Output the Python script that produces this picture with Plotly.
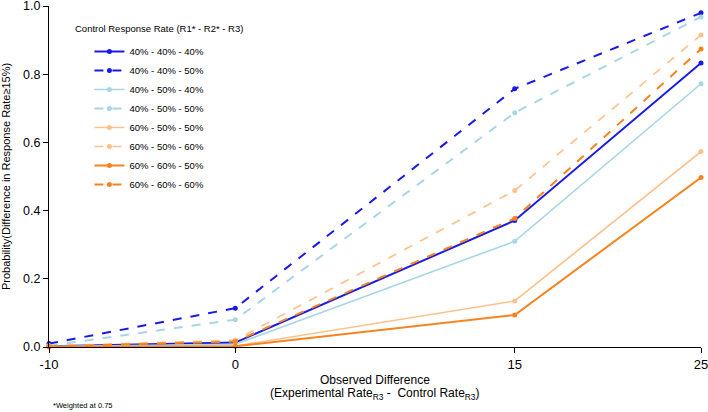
import plotly.graph_objects as go

x_vals = [-10, 0, 15, 25]
series_names = ["40% - 40% - 40%", "40% - 40% - 50%", "40% - 50% - 40%", "40% - 50% - 50%",
                "60% - 50% - 50%", "60% - 50% - 60%", "60% - 60% - 50%", "60% - 60% - 60%"]
v_40_40_40 = [0.002, 0.013, 0.371, 0.833]
v_40_40_50 = [0.010, 0.114, 0.757, 0.980]
v_40_50_40 = [0.001, 0.008, 0.310, 0.772]
v_40_50_50 = [0.004, 0.080, 0.687, 0.968]
v_60_50_50 = [0.001, 0.003, 0.135, 0.573]
v_60_50_60 = [0.003, 0.020, 0.459, 0.915]
v_60_60_50 = [0.000, 0.002, 0.094, 0.497]
v_60_60_60 = [0.002, 0.016, 0.377, 0.874]
series_values = [v_40_40_40, v_40_40_50, v_40_50_40, v_40_50_50,
                 v_60_50_50, v_60_50_60, v_60_60_50, v_60_60_60]

BLUE = "#1a1ae6"
LBLUE = "#a8d6e6"
LORANGE = "#fdc189"
ORANGE = "#f5841f"
colors = [BLUE, BLUE, LBLUE, LBLUE, LORANGE, LORANGE, ORANGE, ORANGE]
dashes = ["solid", "dash", "solid", "dash", "solid", "dash", "solid", "dash"]
widths = [2, 2, 1.6, 2, 1.6, 1.6, 2, 2]

fig = go.Figure()
for name, vals, c, d, w in zip(series_names, series_values, colors, dashes, widths):
    fig.add_trace(go.Scatter(
        x=x_vals, y=vals, name=name, mode="lines+markers",
        line=dict(color=c, dash=d, width=w),
        marker=dict(color=c, size=5),
        cliponaxis=False,
    ))

FONT = "Liberation Sans, Arial, sans-serif"
TOP, BOTTOM = 6, 347
PLOT_H = BOTTOM - TOP
def py(pixel_y):
    return (BOTTOM - pixel_y) / PLOT_H

fig.update_layout(
    width=708, height=412,
    margin=dict(l=49, r=7, t=TOP, b=412 - BOTTOM),
    paper_bgcolor="white", plot_bgcolor="white",
    font=dict(family=FONT, color="black", size=12),
    showlegend=True,
    legend=dict(
        x=0.062, y=py(37), xanchor="left", yanchor="top",
        font=dict(size=9.5),
        bgcolor="rgba(255,255,255,0)",
        tracegroupgap=0,
    ),
    xaxis=dict(
        range=[-10, 25], tickvals=x_vals, ticktext=["-10", "0", "15", "25"],
        showgrid=False, zeroline=False, showline=True, linecolor="black", linewidth=1.2,
        ticks="outside", ticklen=5, tickcolor="black", tickfont=dict(size=13),
        ticklabeloverflow="allow", automargin=False,
    ),
    yaxis=dict(
        range=[0, 1], tickvals=[0, 0.2, 0.4, 0.6, 0.8, 1.0],
        ticktext=["0.0", "0.2", "0.4", "0.6", "0.8", "1.0"],
        showgrid=False, zeroline=False, showline=True, linecolor="black", linewidth=1.2,
        ticks="outside", ticklen=5, tickcolor="black", tickfont=dict(size=12.5),
        ticklabeloverflow="allow", automargin=False,
        title=dict(text="Probability(Difference in Response Rate≥15%)", font=dict(size=11)),
    ),
    annotations=[
        dict(text="Control Response Rate (R1* - R2* - R3)", xref="paper", yref="paper",
             x=(73 - 49) / 652, y=py(28), xanchor="left", yanchor="middle",
             showarrow=False, font=dict(size=9.5)),
        dict(text="Observed Difference", xref="paper", yref="paper",
             x=0.5, y=py(380), xanchor="center", yanchor="middle",
             showarrow=False, font=dict(size=12)),
        dict(text="(Experimental Rate<sub>R3</sub> -  Control Rate<sub>R3</sub>)", xref="paper", yref="paper",
             x=0.5, y=py(394), xanchor="center", yanchor="middle",
             showarrow=False, font=dict(size=12)),
        dict(text="*Weighted at 0.75", xref="paper", yref="paper", x=0.003, y=py(412),
             xanchor="left", yanchor="bottom", showarrow=False, font=dict(size=7.5)),
    ],
)

fig.write_html("out.html")
